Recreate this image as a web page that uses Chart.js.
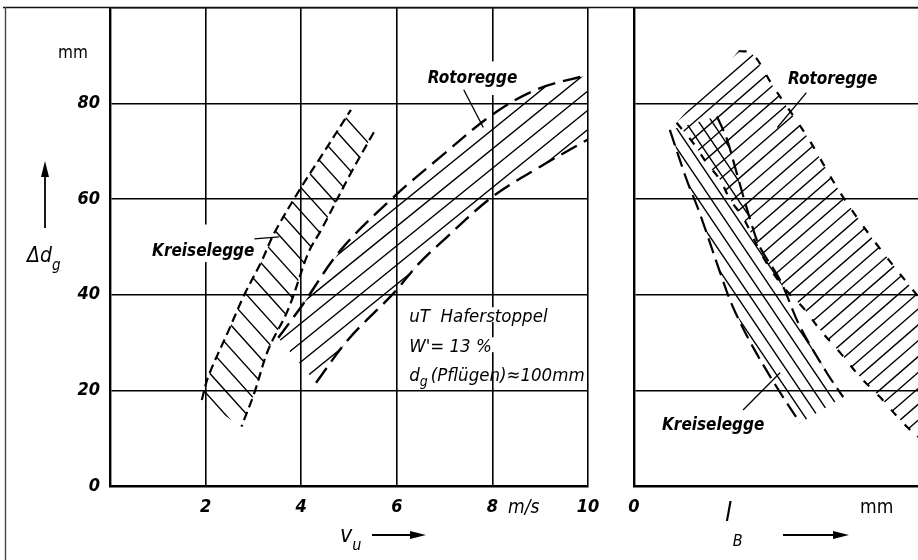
<!DOCTYPE html>
<html><head><meta charset="utf-8">
<script src="https://cdn.jsdelivr.net/npm/chart.js@4.4.1/dist/chart.umd.min.js"></script>
<style>
html,body{margin:0;padding:0;background:#fff;}
#wrap{position:relative;width:918px;height:560px;overflow:hidden;background:#fff;}
canvas{position:absolute;top:0;}
</style></head><body>
<div id="wrap">
<canvas id="c1" width="612" height="560" style="left:0"></canvas>
<canvas id="c2" width="306" height="560" style="left:612px"></canvas>
</div>
<script>
// ---------- data ----------
// left panel: x = v_u [m/s], y = Δd_g [mm]
const vuTicks = [2, 4, 6, 8, 10];
const dgTicks = [0, 20, 40, 60, 80];
const lbTicks = [0, 100, 200];

// Kreiselegge band (v_u): inner (upper-left) edge bottom->top, outer edge top->bottom
const kreiselVuInner = [[1.92,18],[2.06,23],[2.48,32.5],[2.81,40],[3.17,47],[3.44,53],[4.0,62.5],[4.42,69],[5.04,78.7]];
const kreiselVuOuter = [[5.52,74],[5.04,65.5],[4.42,53.6],[4.15,48.8],[3.73,37],[3.31,28.5],[3.02,19.5],[2.75,12.4]];
// Rotoregge band (v_u): upper edge and lower edge, left->right
const rotorVuUpper = [[3.52,31],[4.0,37.5],[4.83,49.4],[5.94,60.5],[6.92,68.9],[8.0,77.7],[8.94,83],[10,86]];
const rotorVuLower = [[4.31,21.6],[4.98,30.6],[5.94,40.4],[6.44,46.3],[6.92,50.9],[8.0,60.5],[9.0,66.8],[10,72.5]];

// right panel: x = l_B [mm], y = Δd_g [mm]
// Rotoregge band (l_B): upper-right edge and lower-left edge, top->bottom
const rotorLbUpper = [[108,91],[122,90.5],[143.6,83.6],[178.7,73.1],[212.8,61.4],[247,51.5],[282,42.5],[300,38]];
const rotorLbLower = [[44,76],[61,71.8],[75,67.6],[89,64],[99,60],[113,56],[133,48],[154,41.7],[174.6,37.3],[192,32.7],[212.8,27.9],[233.5,22.8],[254,18.6],[275,13.8],[292,10.3],[300,8.5]];
// Kreiselegge band (l_B): left edge and right edge, top->bottom
const kreiselLbLeft = [[37,74.5],[54.5,64],[68,57],[89,44.6],[102,37.5],[123,29],[151,19.5],[171.5,13.2]];
const kreiselLbRight = [[85.7,77.3],[96,72.5],[106,65.5],[120,55.7],[130,50],[151,43],[171.5,33.3],[199,23.7],[216,18.6]];

// ---------- helpers ----------
const FONT = '"Liberation Sans Narrow","DejaVu Sans Condensed","Liberation Sans",sans-serif';
const pts = a => a.map(p => ({x: p[0], y: p[1]}));
const poly = (a, b) => pts(a.concat(b));
const rev = a => a.slice().reverse();

function edge(data, dash, width) {
  return {data: pts(data), borderColor: '#000', borderWidth: width, borderDash: dash,
          pointRadius: 0, tension: 0.35, fill: false};
}
function band(data, angle, spacing) {
  return {data: data, borderWidth: 0, borderColor: 'rgba(0,0,0,0)', pointRadius: 0,
          showLine: false, fill: false, hatch: {angle: angle, spacing: spacing, width: 1.4}};
}

function setFont(ctx, size, italic, bold) {
  ctx.font = (italic ? 'italic ' : '') + (bold ? 'bold ' : '') + size + 'px ' + FONT;
}
function text(ctx, s, x, y, size, italic, bold, align) {
  setFont(ctx, size, italic, bold);
  ctx.textAlign = align || 'left';
  ctx.textBaseline = 'alphabetic';
  ctx.fillStyle = '#000';
  ctx.fillText(s, x, y);
  return ctx.measureText(s).width;
}
function arrow(ctx, x1, y1, x2, y2) {
  const a = Math.atan2(y2 - y1, x2 - x1), L = 16, W = 4;
  ctx.save();
  ctx.strokeStyle = '#000'; ctx.fillStyle = '#000'; ctx.lineWidth = 1.8;
  ctx.beginPath(); ctx.moveTo(x1, y1);
  ctx.lineTo(x2 - Math.cos(a) * L * 0.6, y2 - Math.sin(a) * L * 0.6); ctx.stroke();
  ctx.beginPath(); ctx.moveTo(x2, y2);
  ctx.lineTo(x2 - Math.cos(a) * L - Math.sin(a) * W, y2 - Math.sin(a) * L + Math.cos(a) * W);
  ctx.lineTo(x2 - Math.cos(a) * L + Math.sin(a) * W, y2 - Math.sin(a) * L - Math.cos(a) * W);
  ctx.closePath(); ctx.fill();
  ctx.restore();
}

// hatch fill of closed polygon datasets
const hatchPlugin = {
  id: 'hatch',
  beforeDatasetsDraw(chart) {
    const ctx = chart.ctx, a = chart.chartArea;
    // white gaps in the grid behind labels
    (chart.options.plugins.notes.labels || []).forEach(l => {
      const xs = chart.scales.x, ys = chart.scales.y;
      setFont(ctx, l.size, true, l.bold);
      const w = ctx.measureText(l.t).width;
      const x = xs.getPixelForValue(l.x), y = ys.getPixelForValue(l.y);
      ctx.save(); ctx.fillStyle = '#fff';
      ctx.fillRect(x - 4, y - l.size * 0.8 - l.gap[0], w + 8, l.size * 0.8 + l.gap[0] + l.gap[1]);
      ctx.restore();
    });
    chart.data.datasets.forEach((ds, i) => {
      if (!ds.hatch) return;
      const el = chart.getDatasetMeta(i).data;
      ctx.save();
      ctx.beginPath(); ctx.rect(a.left, a.top, a.right - a.left, a.bottom - a.top); ctx.clip();
      ctx.beginPath();
      el.forEach((p, k) => k ? ctx.lineTo(p.x, p.y) : ctx.moveTo(p.x, p.y));
      ctx.closePath(); ctx.clip();
      const th = ds.hatch.angle * Math.PI / 180;
      const dx = Math.cos(th), dy = -Math.sin(th), nx = -dy, ny = dx;
      const cx = (a.left + a.right) / 2, cy = (a.top + a.bottom) / 2;
      const R = Math.hypot(a.right - a.left, a.bottom - a.top);
      ctx.strokeStyle = '#000'; ctx.lineWidth = ds.hatch.width;
      ctx.beginPath();
      for (let t = -R; t <= R; t += ds.hatch.spacing) {
        const px = cx + nx * t, py = cy + ny * t;
        ctx.moveTo(px - dx * R, py - dy * R); ctx.lineTo(px + dx * R, py + dy * R);
      }
      ctx.stroke();
      ctx.restore();
    });
  }
};

const notesPlugin = {
  id: 'notes',
  afterDatasetsDraw(chart, args, opts) {
    const ctx = chart.ctx, xs = chart.scales.x, ys = chart.scales.y;
    (opts.labels || []).forEach(l => {
      text(ctx, l.t, xs.getPixelForValue(l.x), ys.getPixelForValue(l.y), l.size, true, l.bold);
    });
    (opts.leaders || []).forEach(s => {
      ctx.save(); ctx.strokeStyle = '#000'; ctx.lineWidth = 1.3;
      ctx.beginPath();
      ctx.moveTo(xs.getPixelForValue(s[0]), ys.getPixelForValue(s[1]));
      ctx.lineTo(xs.getPixelForValue(s[2]), ys.getPixelForValue(s[3]));
      ctx.stroke(); ctx.restore();
    });
    if (opts.extra) opts.extra(ctx, chart);
  }
};

function axisOpts(min, max, step, cb, fitSize, isX, showTicks) {
  return {
    type: 'linear', min: min, max: max,
    ticks: {stepSize: step, callback: cb, display: showTicks, color: '#000',
            font: {family: FONT, size: 18, style: 'italic', weight: 'bold'}, padding: isX ? 11 : 10, maxRotation: 0, autoSkip: false},
    grid: {color: '#000', lineWidth: 1.6, drawTicks: false},
    border: {display: true, color: '#000', width: 2.4},
    afterFit: s => {
      if (isX) { s.height = fitSize; s.paddingLeft = 0; s.paddingRight = 0; }
      else { s.width = fitSize; s.paddingTop = 0; s.paddingBottom = 0; }
    }
  };
}

const common = {
  responsive: false, animation: false, devicePixelRatio: 1,
  plugins: {legend: {display: false}, tooltip: {enabled: false}}
};

// ---------- left chart ----------
new Chart(document.getElementById('c1'), {
  type: 'line',
  data: {datasets: [
    band(poly(kreiselVuInner, kreiselVuOuter), -48, 16),
    edge(kreiselVuInner, [9, 5], 2.2),
    edge(kreiselVuOuter, [9, 5], 2.2),
    band(poly(rotorVuUpper, rev(rotorVuLower)), 39, 15),
    edge(rotorVuUpper, [18, 8], 2.4),
    edge(rotorVuLower, [18, 8], 2.4)
  ]},
  options: Object.assign({}, common, {
    layout: {padding: {left: 0, right: 24, top: 8, bottom: 0}},
    scales: {
      x: axisOpts(0, 10, 2, v => (v === 0 ? '' : (vuTicks.includes(v) ? String(v) : null)), 74, true, true),
      y: axisOpts(0, 100, 20, v => (dgTicks.includes(v) ? String(v) : ''), 110, false, true)
    },
    plugins: Object.assign({}, common.plugins, {
      notes: {
        labels: [
          {t: 'Kreiselegge', x: 0.88, y: 48.1, size: 17, bold: true, gap: [18, 6]},
          {t: 'Rotoregge', x: 6.65, y: 84.3, size: 17, bold: true, gap: [8, 12]},
          {t: 'uT  Haferstoppel', x: 6.26, y: 34.3, size: 18.5, bold: false, gap: [0, 0]},
          {t: "W'= 13 %", x: 6.26, y: 28.0, size: 18.5, bold: false, gap: [0, 0]}
        ],
        leaders: [[3.02, 51.7, 3.54, 52.1], [7.40, 82.9, 7.81, 75.0]],
        extra: (ctx, chart) => {
          const xs = chart.scales.x, ys = chart.scales.y;
          // d_g (Pflügen) ≈ 100mm
          let x = xs.getPixelForValue(6.26), y = ys.getPixelForValue(22.0);
          x += text(ctx, 'd', x, y, 18.5, true, false);
          text(ctx, 'g', x, y + 5, 14, true, false);
          text(ctx, '(Pflügen)≈100mm', x + 11, y, 18.5, true, false);
          // frame
          ctx.save(); ctx.strokeStyle = '#111'; ctx.lineWidth = 1.5;
          ctx.beginPath(); ctx.moveTo(3, 7.5); ctx.lineTo(612, 7.5); ctx.stroke();
          ctx.strokeStyle = '#444'; ctx.lineWidth = 1.4;
          ctx.beginPath(); ctx.moveTo(5.5, 7); ctx.lineTo(5.5, 560); ctx.stroke();
          ctx.restore();
          // y axis title
          text(ctx, 'mm', 58, 58, 17, false, false);
          arrow(ctx, 45, 228, 45, 161);
          let tx = 27;
          tx += text(ctx, 'Δd', tx, 262, 21, true, false);
          text(ctx, 'g', tx, 270, 15, true, false);
          // x axis unit and title
          text(ctx, 'm/s', 508, 513, 19, true, false);
          let vx = 340;
          vx += text(ctx, 'v', vx, 542, 23, true, false);
          text(ctx, 'u', vx, 550, 16, true, false);
          arrow(ctx, 372, 535, 426, 535);
        }
      }
    })
  }),
  plugins: [hatchPlugin, notesPlugin]
});

// ---------- right chart ----------
new Chart(document.getElementById('c2'), {
  type: 'line',
  data: {datasets: [
    band(poly(rotorLbUpper, rev(rotorLbLower)), 41, 12),
    edge(rotorLbUpper, [8, 12], 2.2),
    edge(rotorLbLower, [8, 12], 2.2),
    band(poly(kreiselLbLeft, rev(kreiselLbRight)), -56, 11),
    edge(kreiselLbLeft, [16, 7], 2.2),
    edge(kreiselLbRight, [16, 7], 2.2)
  ]},
  options: Object.assign({}, common, {
    layout: {padding: {left: 0, right: 0, top: 8, bottom: 0}},
    scales: {
      x: axisOpts(0, 293.2, 100, v => (lbTicks.includes(v) ? String(v) : null), 74, true, true),
      y: axisOpts(0, 100, 20, v => String(v), 22, false, false)
    },
    plugins: Object.assign({}, common.plugins, {
      notes: {
        labels: [
          {t: 'Rotoregge', x: 159, y: 84.1, size: 17, bold: true, gap: [15, 12]},
          {t: 'Kreiselegge', x: 28.9, y: 11.7, size: 17, bold: true, gap: [13, 4]}
        ],
        leaders: [[178, 82.3, 148, 75], [112.6, 15.9, 150.8, 23.7]],
        extra: (ctx) => {
          ctx.save(); ctx.strokeStyle = '#111'; ctx.lineWidth = 1.5;
          ctx.beginPath(); ctx.moveTo(0, 7.5); ctx.lineTo(306, 7.5); ctx.stroke();
          ctx.restore();
          text(ctx, 'mm', 248, 513, 19, false, false);
          let lx = 113;
          lx += text(ctx, 'l', lx, 521, 27, true, false);
          text(ctx, 'B', lx + 1, 546, 16, true, false);
          arrow(ctx, 171, 535, 237, 535);
        }
      }
    })
  }),
  plugins: [hatchPlugin, notesPlugin]
});
</script>
</body></html>
